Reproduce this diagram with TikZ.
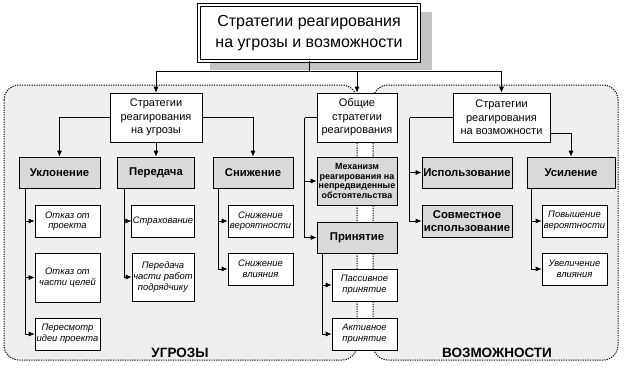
\documentclass[tikz,border=0pt]{standalone}
\usepackage{fontspec}
\setmainfont{Liberation Sans}
\usetikzlibrary{arrows.meta,calc}
\definecolor{regfill}{HTML}{EFEFEF}
\definecolor{boxgray}{HTML}{D9D9D9}
\definecolor{shadowgray}{HTML}{C4C4C4}
\tikzset{
  base/.style={draw=black, line width=0.7pt, inner sep=1pt, align=center},
  wbox/.style={base, fill=white, font=\fontsize{11}{13.5}\selectfont},
  gbox/.style={base, fill=boxgray, font=\fontsize{11.3}{12.5}\selectfont\bfseries},
  mbox/.style={base, fill=boxgray, font=\fontsize{8.9}{9.8}\selectfont\bfseries},
  ibox/.style={base, fill=white, font=\fontsize{9.4}{10.6}\selectfont\itshape},
  region/.style={draw=black, line width=1pt, dash pattern=on 1.2pt off 1.2pt, fill=regfill, rounded corners=15pt},
  arr/.style={draw=black, line width=0.7pt, -{Latex[length=6pt,width=5pt]}},
  ln/.style={draw=black, line width=0.7pt},
  rlabel/.style={font=\fontsize{13.5}{15}\selectfont\bfseries}
}
\begin{document}
\begin{tikzpicture}[x=1pt,y=-1pt]
\useasboundingbox (0,0) rectangle (625,370);
% regions
\path[region] (4,85) rectangle (357,360);
\path[region] (373,85) rectangle (618,360);
\node[rlabel] (lthr) at (180,353) {УГРОЗЫ};
\node[rlabel] (lopp) at (497,353) {ВОЗМОЖНОСТИ};
% title
\fill[shadowgray] (210,12) rectangle (432,70);
\node[draw=black, fill=white, line width=0.8pt, double, double distance=2pt, minimum width=220, minimum height=56, inner sep=0pt, align=center, font=\fontsize{16}{20.5}\selectfont] (title) at (309,33) {Стратегии реагирования\\на угрозы и возможности};
% level 1
\node[wbox, minimum width=92, minimum height=49] (thr) at (156,117.5) {Стратегии\\реагирования\\на угрозы};
\node[wbox, minimum width=80, minimum height=49] (gen) at (357,117.5) {Общие\\стратегии\\реагирования};
\node[wbox, minimum width=97, minimum height=49] (opp) at (501.5,117.5) {Стратегии\\реагирования\\на возможности};
% level 2 threats
\node[gbox, minimum width=81, minimum height=31] (ukl) at (59.5,172.5) {Уклонение};
\node[gbox, minimum width=77, minimum height=31] (per) at (156,172.5) {Передача};
\node[gbox, minimum width=80, minimum height=31] (sni) at (253,172.5) {Снижение};
% middle
\node[mbox, minimum width=80, minimum height=48] (mech) at (357,181) {Механизм\\реагирования на\\непредвиденные\\обстоятельства};
\node[gbox, minimum width=80, minimum height=31] (prin) at (357,237.5) {Принятие};
\node[ibox, minimum width=65, minimum height=32] (pas) at (364.5,285) {Пассивное\\принятие};
\node[ibox, minimum width=65, minimum height=32] (akt) at (364.5,334) {Активное\\принятие};
% opportunities
\node[gbox, minimum width=90, minimum height=31] (isp) at (467,172.5) {Использование};
\node[gbox, minimum width=90, minimum height=32] (sov) at (467,221) {Совместное\\использование};
\node[gbox, minimum width=88, minimum height=31] (usi) at (571,172.5) {Усиление};
\node[ibox, minimum width=65, minimum height=32] (pov) at (574.5,221) {Повышение\\вероятности};
\node[ibox, minimum width=65, minimum height=32] (uvl) at (574.5,269) {Увеличение\\влияния};
% threat sub-items
\node[ibox, minimum width=65, minimum height=32] (otk1) at (67.5,221) {Отказ от\\проекта};
\node[ibox, minimum width=65, minimum height=49] (otk2) at (67.5,277.5) {Отказ от\\части целей};
\node[ibox, minimum width=65, minimum height=32] (pere) at (67.5,334) {Пересмотр\\идеи проекта};
\node[ibox, minimum width=62, minimum height=32] (str) at (163,221) {Страхование};
\node[ibox, minimum width=62, minimum height=48] (pod) at (163,277) {Передача\\части работ\\подрядчику};
\node[ibox, minimum width=65, minimum height=32] (snv) at (260.5,221) {Снижение\\вероятности};
\node[ibox, minimum width=65, minimum height=32] (snl) at (260.5,269) {Снижение\\влияния};
% connectors from title
\coordinate (hub) at (309,71);
\draw[ln] (title.south) -- (hub);
\draw[arr] (hub) -| (thr.north);
\draw[arr] (hub) -| (gen.north);
\draw[arr] (hub) -| (opp.north);
% threats
\draw[arr] (thr.west) -| (ukl.north);
\draw[arr] (thr.south) -- (per.north);
\draw[arr] (thr.east) -| (sni.north);
\coordinate (u0) at ($(ukl.south west)+(7,0)$);
\draw[arr] (u0) |- (pere.west);
\draw[arr] (u0 |- otk1.west) -- (otk1.west);
\draw[arr] (u0 |- otk2.west) -- (otk2.west);
\coordinate (p0) at ($(per.south west)+(7.5,0)$);
\draw[arr] (p0) |- (pod.west);
\draw[arr] (p0 |- str.west) -- (str.west);
\coordinate (s0) at ($(sni.south west)+(6,0)$);
\draw[arr] (s0) |- (snl.west);
\draw[arr] (s0 |- snv.west) -- (snv.west);
% general
\coordinate (g0) at ($(gen.west)+(-12,0)$);
\draw[ln] (gen.west) -- (g0);
\draw[arr] (g0) |- (prin.west);
\draw[arr] (g0 |- mech.west) -- (mech.west);
\coordinate (r0) at ($(prin.south west)+(6,0)$);
\draw[arr] (r0) |- (akt.west);
\draw[arr] (r0 |- pas.west) -- (pas.west);
% opportunities
\coordinate (o0) at ($(opp.west)+(-43,0)$);
\draw[ln] (opp.west) -- (o0);
\draw[arr] (o0) |- (sov.west);
\draw[arr] (o0 |- isp.west) -- (isp.west);
\draw[arr] ($(opp.south east)+(0,-9)$) -| (usi.north);
\coordinate (v0) at ($(usi.south west)+(5,0)$);
\draw[arr] (v0) |- (uvl.west);
\draw[arr] (v0 |- pov.west) -- (pov.west);
\end{tikzpicture}
\end{document}
